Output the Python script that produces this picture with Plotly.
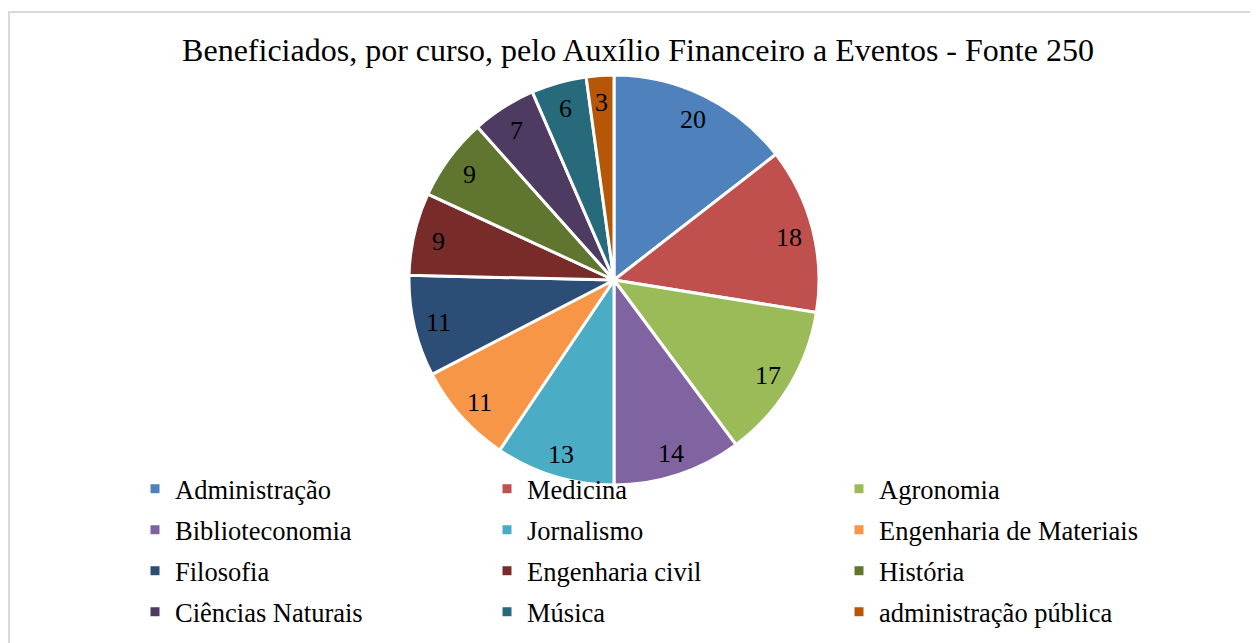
import math
import plotly.graph_objects as go

# ---- data ----
courses = ["Administração", "Medicina", "Agronomia", "Biblioteconomia", "Jornalismo",
           "Engenharia de Materiais", "Filosofia", "Engenharia civil", "História",
           "Ciências Naturais", "Música", "administração pública"]
beneficiaries = [20, 18, 17, 14, 13, 11, 11, 9, 9, 7, 6, 3]
colors = ["#4F81BD", "#C0504D", "#9BBB59", "#8064A2", "#4BACC6", "#F79646",
          "#2C4D75", "#772C2A", "#5F7530", "#4D3B62", "#276A7C", "#B65708"]
title_text = "Beneficiados, por curso, pelo Auxílio Financeiro a Eventos - Fonte 250"

W, H = 1258, 643
OFF = 8  # page body margin offset
FONT = "Liberation Serif, Times New Roman, serif"


def fx(px):
    return (px - OFF) / W


def fy(py):
    return 1 - (py - OFF) / H


# pie geometry (screen pixels)
cx, cy, R = 614, 280, 205
dom_x = [fx(cx - R), fx(cx + R)]
dom_y = [fy(cy + R), fy(cy - R)]

fig = go.Figure()
fig.add_trace(go.Pie(
    labels=courses, values=beneficiaries, sort=False, direction="clockwise",
    rotation=0, marker=dict(colors=colors, line=dict(color="white", width=3)),
    textinfo="none", showlegend=False, domain=dict(x=dom_x, y=dom_y),
))

# value labels placed along the slice bisector, derived from the data
total = sum(beneficiaries)
cum = 0
for v in beneficiaries:
    th = 2 * math.pi * (cum + v / 2) / total
    cum += v
    px = cx + 0.88 * R * math.sin(th)
    py = cy - 0.88 * R * math.cos(th) + 2
    fig.add_annotation(x=fx(px), y=fy(py), xref="paper", yref="paper",
                       text=str(v), showarrow=False,
                       font=dict(family=FONT, size=26, color="black"),
                       xanchor="center", yanchor="middle")

# legend: 4 rows x 3 columns (one legend per row)
row_centers = [489, 530, 571, 612]
legend_names = ["legend", "legend2", "legend3", "legend4"]
for i, (name, col) in enumerate(zip(courses, colors)):
    fig.add_trace(go.Scatter(
        x=[None], y=[None], mode="markers", name=name,
        marker=dict(symbol="square", size=9, color=col),
        legend=legend_names[i // 3], hoverinfo="skip",
    ))

leg_common = dict(orientation="h", x=fx(135), xanchor="left", yanchor="middle",
                  entrywidth=307, entrywidthmode="pixels", bgcolor="rgba(0,0,0,0)",
                  font=dict(family=FONT, size=26.5, color="black"), itemclick=False,
                  itemdoubleclick=False)
layout_legends = {}
for k, yc in zip(legend_names, row_centers):
    layout_legends[k] = dict(leg_common, y=fy(yc))

fig.update_layout(
    width=W, height=H,
    margin=dict(l=0, r=0, t=0, b=0),
    paper_bgcolor="white", plot_bgcolor="rgba(0,0,0,0)",
    xaxis=dict(visible=False), yaxis=dict(visible=False),
    title=dict(text=title_text, x=fx(638), xanchor="center", y=fy(50),
               yanchor="middle", yref="paper",
               font=dict(family=FONT, size=32, color="black")),
    shapes=[dict(type="rect", xref="paper", yref="paper", x0=fx(9), y0=-0.05,
                 x1=1.05, y1=fy(12), line=dict(color="#D9D9D9", width=2),
                 fillcolor="rgba(0,0,0,0)", layer="below")],
    **layout_legends,
)

fig.write_html("out.html")
